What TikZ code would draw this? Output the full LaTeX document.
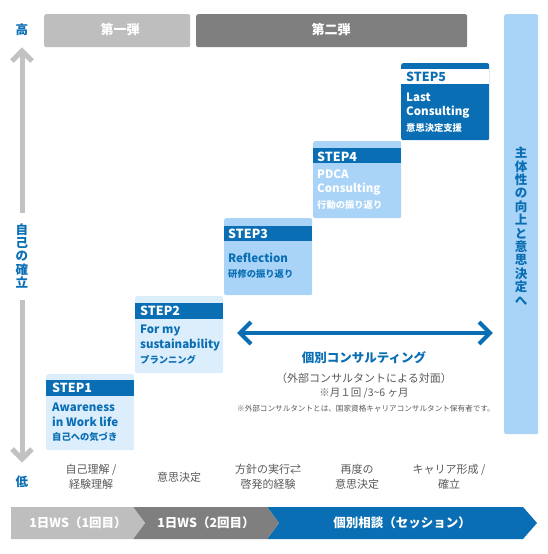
\documentclass[tikz,border=0pt]{standalone}
\usepackage{fontspec}
\setmainfont{Noto Sans CJK JP}
\definecolor{cblue}{HTML}{0A6EB4}
\definecolor{clb}{HTML}{A9D4F7}
\definecolor{cvlb}{HTML}{DCEEFC}
\definecolor{cgA}{HTML}{BEBEBE}
\definecolor{cgB}{HTML}{7F7F7F}
\definecolor{ctext}{HTML}{5A5A5A}
\definecolor{caxis}{HTML}{C2C2C2}
\tikzset{
  fs/.style={font=\fontsize{#1}{#1}\selectfont},
  box/.style={draw=none, rounded corners=2pt, inner sep=0pt, anchor=north west},
  steplabel/.style={anchor=west, inner sep=0pt, font=\bfseries\fontsize{12.5}{13}\selectfont},
  steptitle/.style={anchor=west, inner sep=0pt, font=\bfseries\fontsize{11.5}{12}\selectfont},
  stepsub/.style={anchor=west, inner sep=0pt, font=\bfseries\fontsize{9.3}{10}\selectfont},
  botlab/.style={align=center, text=ctext, inner sep=0pt, font=\fontsize{11}{15}\selectfont},
  vtext/.style={align=center, inner sep=0pt, text=cblue, font=\bfseries\fontsize{12.5}{13.4}\selectfont},
  axisline/.style={caxis, line width=5pt},
  barrow/.style={cblue, line width=4pt},
}
\begin{document}
\begin{tikzpicture}[x=1pt,y=-1pt]
\useasboundingbox (0,0) rectangle (548,554);

% header bars
\node[box, fill=cgA, minimum width=146pt, minimum height=33pt] (h1) at (44,14) {};
\node[text=white, font=\bfseries\fontsize{13}{13}\selectfont] (h1t) at (120,30) {第一弾};
\node[box, fill=cgB, minimum width=271pt, minimum height=33pt] (h2) at (196,14) {};
\node[text=white, font=\bfseries\fontsize{13}{13}\selectfont] (h2t) at (331,30) {第二弾};

% right bar
\node[box, fill=clb, minimum width=34pt, minimum height=420pt] (rb) at (504,14) {};
\node[vtext] (rbt) at (521,226) {主\\体\\性\\の\\向\\上\\と\\意\\思\\決\\定\\へ};

% left axis
\node[text=cblue, font=\bfseries\fontsize{12.5}{13}\selectfont] (hi) at (22,30) {高};
\node[text=cblue, font=\bfseries\fontsize{12.5}{13}\selectfont] (lo) at (22,482) {低};
\node[vtext] (ax) at (22,256) {自\\己\\の\\確\\立};
\coordinate (axtop) at (22,51);
\coordinate (axbot) at (22,459);
\draw[axisline] (axtop) -- (22,213);
\draw[axisline] (22,300) -- (axbot);
\draw[axisline, miter limit=10] (12,61) -- (axtop) -- (32,61);
\draw[axisline, miter limit=10] (12,449) -- (axbot) -- (32,449);

% STEP1
\node[box, fill=cvlb, minimum width=88pt, minimum height=76pt] (s1) at (46,374) {};
\fill[cblue] (46,380) rectangle (134,396);
\node[steplabel, text=white] (s1l) at (52,388) {STEP1};
\node[steptitle, text=cblue] (s1a) at (52,407.5) {Awareness};
\node[steptitle, text=cblue] (s1b) at (52,422) {in Work life};
\node[stepsub, text=cblue] (s1c) at (52,437) {自己への気づき};

% STEP2
\node[box, fill=cvlb, minimum width=88pt, minimum height=77pt] (s2) at (135,296) {};
\fill[cblue] (135,303) rectangle (223,319);
\node[steplabel, text=white] (s2l) at (140,311) {STEP2};
\node[steptitle, text=cblue] (s2a) at (140,330) {For my};
\node[steptitle, text=cblue] (s2b) at (140,344.5) {sustainability};
\node[stepsub, text=cblue] (s2c) at (140,360) {プランニング};

% STEP3
\node[box, fill=clb, minimum width=88pt, minimum height=77pt] (s3) at (224,218) {};
\fill[cblue] (224,226) rectangle (312,241);
\node[steplabel, text=white] (s3l) at (228,234) {STEP3};
\node[steptitle, text=cblue] (s3a) at (228,258) {Reflection};
\node[stepsub, text=cblue] (s3c) at (228,274) {研修の振り返り};

% STEP4
\node[box, fill=clb, minimum width=88pt, minimum height=77pt] (s4) at (313,141) {};
\fill[cblue] (313,148) rectangle (401,163);
\node[steplabel, text=white] (s4l) at (317,156.5) {STEP4};
\node[steptitle, text=white] (s4a) at (317,174) {PDCA};
\node[steptitle, text=white] (s4b) at (317,189) {Consulting};
\node[stepsub, text=white] (s4c) at (317,205) {行動の振り返り};

% STEP5
\node[box, fill=cblue, minimum width=88pt, minimum height=77pt] (s5) at (401,63) {};
\fill[white] (401,69) rectangle (489,83.5);
\node[steplabel, text=cblue] (s5l) at (406,77) {STEP5};
\node[steptitle, text=white] (s5a) at (406,97) {Last};
\node[steptitle, text=white] (s5b) at (406,112) {Consulting};
\node[stepsub, text=white] (s5c) at (406,128) {意思決定支援};

% double arrow
\coordinate (al) at (240,333);
\coordinate (ar) at (490,333);
\draw[barrow] (al) -- (ar);
\draw[barrow, miter limit=10] (251,322) -- (al) -- (251,344);
\draw[barrow, miter limit=10] (479,322) -- (ar) -- (479,344);
\node[text=cblue, font=\bfseries\fontsize{12.5}{13}\selectfont] (c1) at (364,358) {個別コンサルティング};
\node[text=ctext, font=\fontsize{11}{12}\selectfont] (c2) at (364,378) {（外部コンサルタントによる対面）};
\node[text=ctext, font=\fontsize{10.5}{12}\selectfont] (c3) at (364,393) {※月１回 /3\textasciitilde 6 ヶ月};
\node[text=ctext, font=\fontsize{7.6}{9}\selectfont] (c4) at (366,409) {※外部コンサルタントとは、国家資格キャリアコンサルタント保有者です。};

% bottom labels
\node[botlab] (b1) at (91,477) {自己理解 /\\経験理解};
\node[botlab] (b2) at (179,477) {意思決定};
\node[botlab] (b3) at (268,477) {方針の実行⇄\\啓発的経験};
\node[botlab] (b4) at (357,477) {再度の\\意思決定};
\node[botlab] (b5) at (449,477) {キャリア形成 /\\確立};

% bottom bar
\fill[cblue] (267,507) -- (523,507) -- (537,523) -- (523,539) -- (267,539) -- (279,523) -- cycle;
\fill[cgB] (133,507) -- (267,507) -- (279,523) -- (267,539) -- (133,539) -- (145,523) -- cycle;
\fill[cgA] (11,507) -- (133,507) -- (145,523) -- (133,539) -- (11,539) -- cycle;
\node[text=white, font=\bfseries\fontsize{12.5}{13}\selectfont] (p1) at (78,523) {1日WS（1回目）};
\node[text=white, font=\bfseries\fontsize{12.5}{13}\selectfont] (p2) at (206,523) {1日WS（2回目）};
\node[text=white, font=\bfseries\fontsize{12.5}{13}\selectfont] (p3) at (402,523) {個別相談（セッション）};
\end{tikzpicture}
\end{document}
